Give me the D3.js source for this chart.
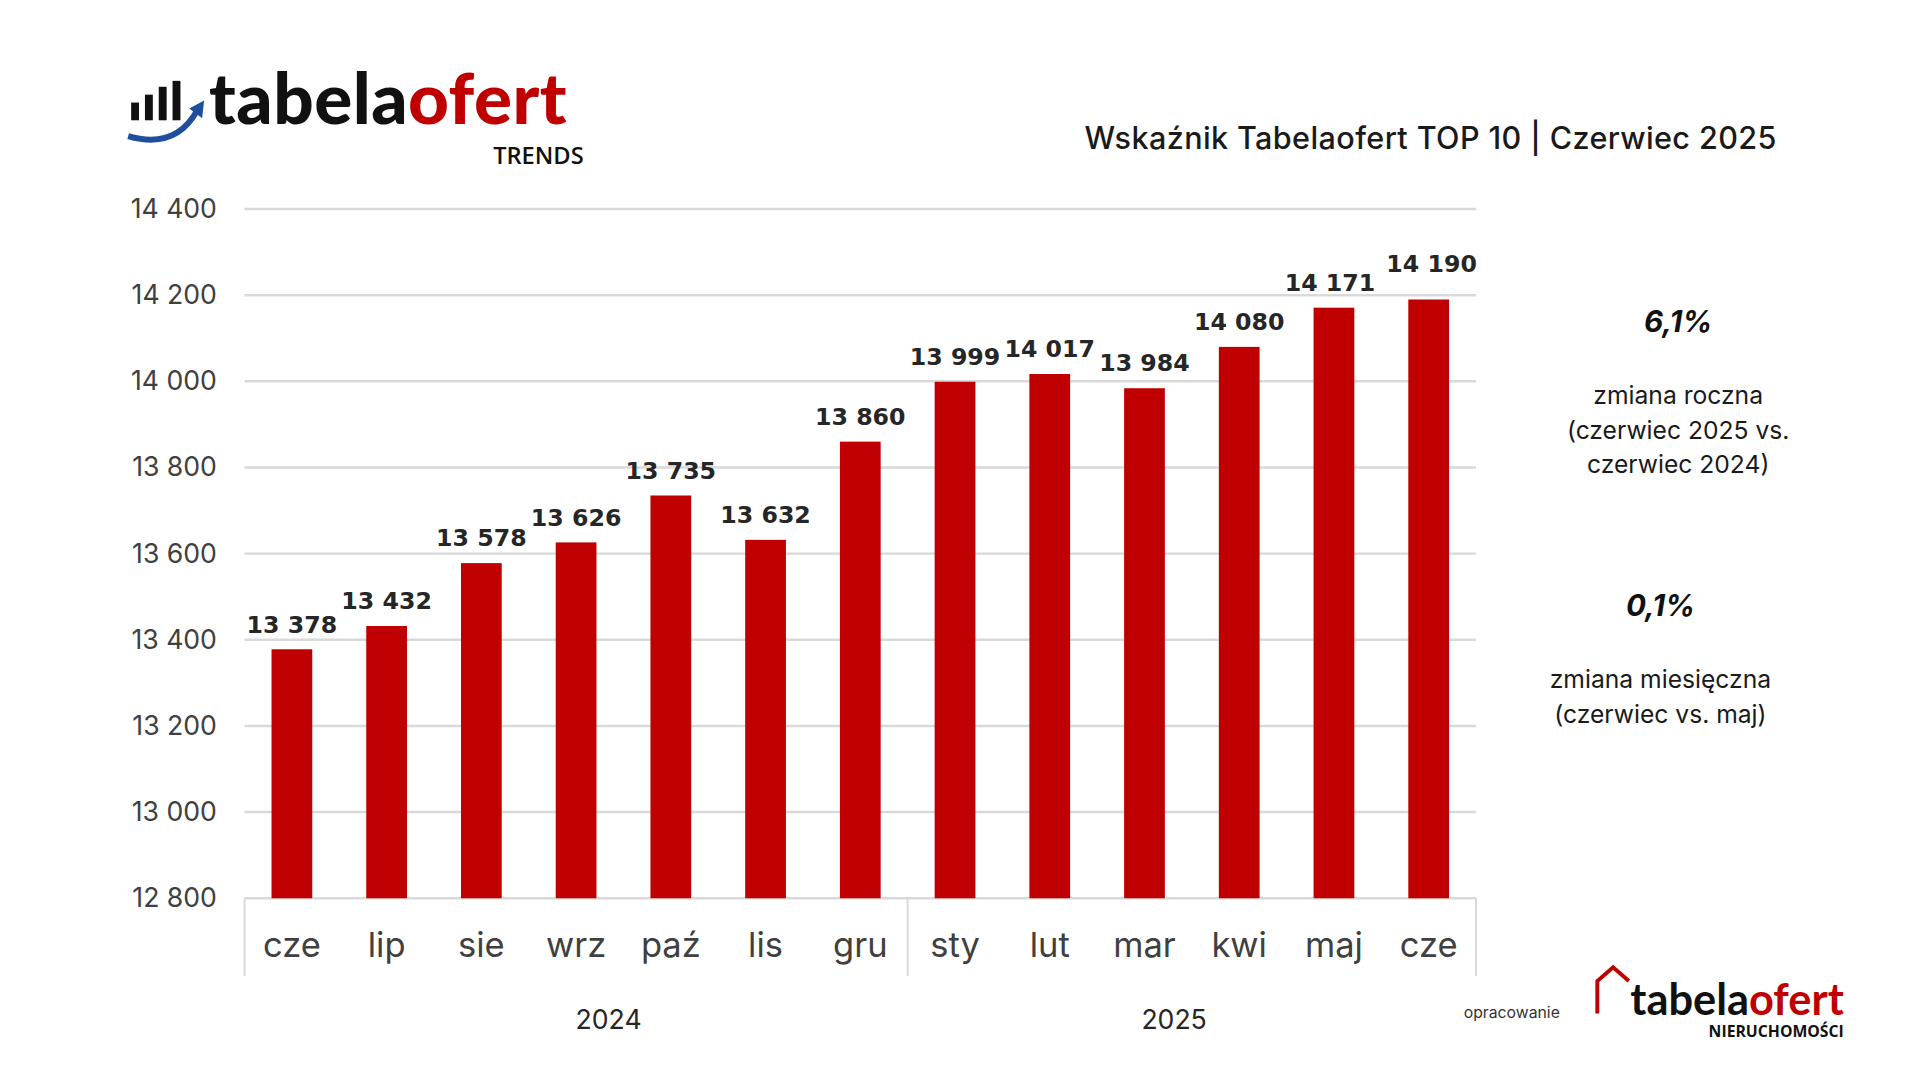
<!DOCTYPE html>
<html><head><meta charset="utf-8">
<script src="https://cdn.jsdelivr.net/npm/d3@7/dist/d3.min.js"></script>
<style>body{margin:0;background:#fff}svg{display:block}</style>
</head><body><svg id="c" width="1920" height="1080"></svg>
<script>
const categories=["cze","lip","sie","wrz","paź","lis","gru","sty","lut","mar","kwi","maj","cze"];
const values=[13378,13432,13578,13626,13735,13632,13860,13999,14017,13984,14080,14171,14190];
const yTicks=[12800,13000,13200,13400,13600,13800,14000,14200,14400];
const years=[{label:"2024",from:0,to:7},{label:"2025",from:7,to:13}];
const fmt=v=>d3.format(",")(v).replace(/,/g," ");
const svg=d3.select("#c").append("g").attr("transform","scale(0.986)");
const F="Inter, 'Open Sans', sans-serif";
const x=d3.scaleBand().domain(d3.range(categories.length)).range([248,1497]).paddingInner(0.57).paddingOuter(0.285);
const y=d3.scaleLinear().domain([12800,14400]).range([911,212]);
svg.append("g").selectAll("line").data(yTicks).join("line")
 .attr("x1",248).attr("x2",1497).attr("y1",d=>y(d)).attr("y2",d=>y(d))
 .attr("stroke","#d9d9d9").attr("stroke-width",2.5);
svg.append("g").selectAll("text").data(yTicks).join("text")
 .attr("x",220).attr("y",d=>y(d)+9).attr("text-anchor","end")
 .attr("font-family",F).attr("font-size",27).attr("fill","#404040").text(fmt);
svg.append("g").selectAll("rect").data(values).join("rect")
 .attr("x",(d,i)=>x(i)).attr("width",x.bandwidth())
 .attr("y",d=>y(d)).attr("height",d=>y(12800)-y(d)).attr("fill","#c00000");
svg.append("g").selectAll("text").data(values).join("text")
 .attr("x",(d,i)=>x(i)+x.bandwidth()/2+(i==11?-4:i==12?3:0)).attr("y",(d,i)=>y(d)-(i==12?28:17)).attr("text-anchor","middle")
 .attr("font-family","DejaVu Sans").attr("font-weight","bold").attr("font-size",24).attr("fill","#262626").text(fmt);
svg.append("g").selectAll("text").data(categories).join("text")
 .attr("x",(d,i)=>x(i)+x.bandwidth()/2).attr("y",971).attr("text-anchor","middle")
 .attr("font-family",F).attr("font-size",35).attr("fill","#404040").text(d=>d);
const x0=248, st=1249/13;
const sepX=[0,7,13].map(i=>x0+i*st);
svg.append("g").selectAll("line").data(sepX).join("line")
 .attr("x1",d=>d).attr("x2",d=>d).attr("y1",911).attr("y2",990).attr("stroke","#d9d9d9").attr("stroke-width",2);
const yearShift=[33,-18];
svg.append("g").selectAll("text").data(years).join("text")
 .attr("x",(d,i)=>x0+(d.from+d.to)/2*st+yearShift[i]).attr("y",1044).attr("text-anchor","middle")
 .attr("font-family",F).attr("font-size",27).attr("fill","#262626").text(d=>d.label);
svg.append("text").attr("x",1802).attr("y",151).attr("text-anchor","end").attr("font-family",F)
 .attr("font-size",31).attr("font-weight",500).attr("letter-spacing",0.4).attr("fill","#1a1a1a").text("Wskaźnik Tabelaofert TOP 10  | Czerwiec 2025");
const ann=[{t:"6,1%",x:1702,y:337,lines:["zmiana roczna","(czerwiec 2025 vs.","czerwiec 2024)"],ly:410},
 {t:"0,1%",x:1684,y:625,lines:["zmiana miesięczna","(czerwiec vs. maj)"],ly:698}];
ann.forEach(a=>{
 svg.append("text").attr("x",a.x).attr("y",a.y).attr("text-anchor","middle").attr("font-family",F)
  .attr("font-size",30).attr("font-weight","bold").attr("font-style","italic").attr("fill","#111").text(a.t);
 a.lines.forEach((l,i)=>svg.append("text").attr("x",a.x).attr("y",a.ly+i*35).attr("text-anchor","middle")
  .attr("font-family",F).attr("font-size",25).attr("fill","#1a1a1a").text(l));
});
const lg=svg.append("g");
[[133,104,122],[147,96,122],[161,88,122],[175,82,122]].forEach(b=>lg.append("rect").attr("x",b[0]).attr("y",b[1]).attr("width",8).attr("height",b[2]-b[1]).attr("fill","#111"));
lg.append("path").attr("d","M130,138 Q178,152 200,112").attr("fill","none").attr("stroke","#1f4e9c").attr("stroke-width",6);
lg.append("path").attr("d","M192,110 L207,102 L205,120 Z").attr("fill","#1f4e9c");
const lt=lg.append("text").attr("x",212).attr("y",126).attr("font-family","Lato, Inter, sans-serif").attr("font-weight",900).attr("font-size",72).attr("letter-spacing",0.5);
lt.append("tspan").attr("fill","#111").text("tabela");
lt.append("tspan").attr("fill","#c00000").text("ofert");
lg.append("text").attr("x",592).attr("y",166).attr("text-anchor","end").attr("font-family","'Open Sans'").attr("font-weight",600).attr("font-size",24).attr("fill","#111").text("TRENDS");
svg.append("text").attr("x",1582).attr("y",1032).attr("text-anchor","end").attr("font-family",F).attr("font-size",16).attr("fill","#333").text("opracowanie");
svg.append("path").attr("d","M1620,1028 L1620,995 L1636,981 L1652,995").attr("fill","none").attr("stroke","#c00000").attr("stroke-width",4);
const bt=svg.append("text").attr("x",1870).attr("y",1029).attr("text-anchor","end").attr("font-family","Lato, sans-serif").attr("font-weight","bold").attr("font-size",44);
bt.append("tspan").attr("fill","#111").text("tabela");
bt.append("tspan").attr("fill","#c00000").text("ofert");
svg.append("text").attr("x",1870).attr("y",1052).attr("text-anchor","end").attr("font-family","'Open Sans'").attr("font-weight","bold").attr("font-size",16).attr("fill","#111").text("NIERUCHOMOŚCI");
</script></body></html>
